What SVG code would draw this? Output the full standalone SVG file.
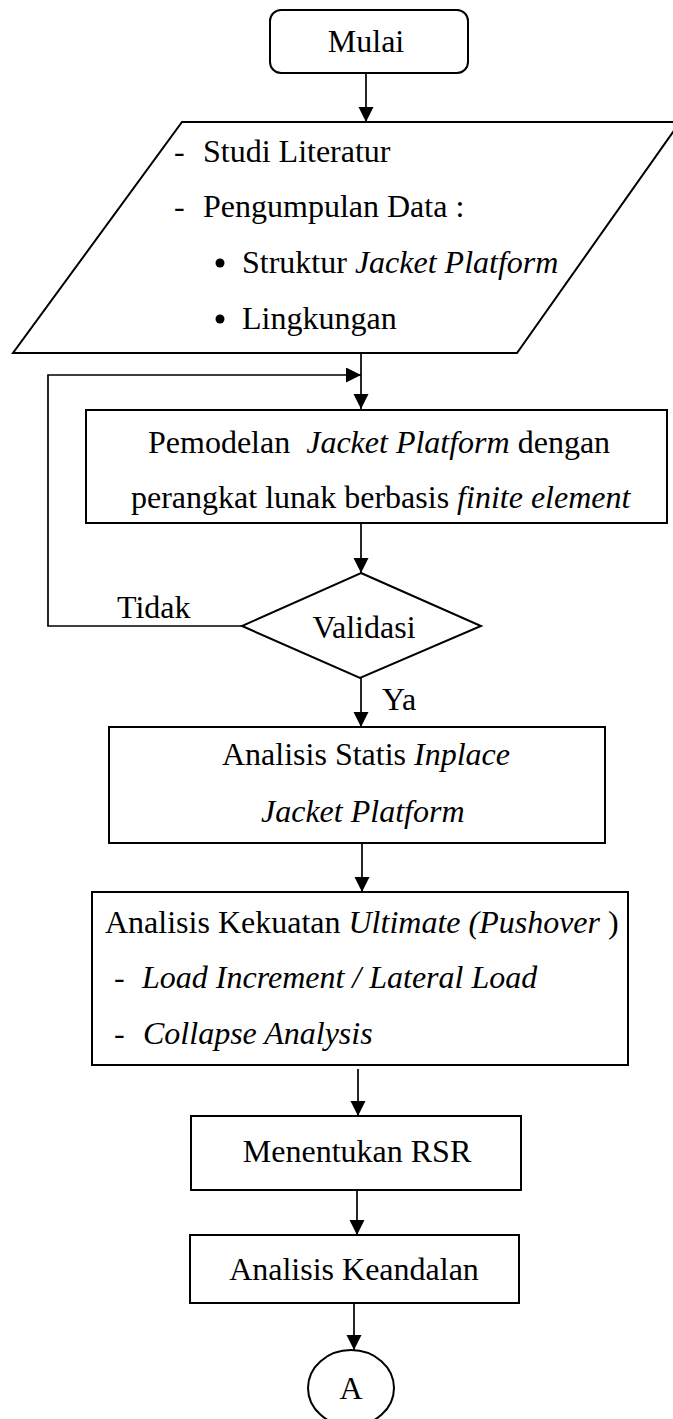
<svg xmlns="http://www.w3.org/2000/svg" width="673" height="1419" viewBox="0 0 673 1419">
  <style>
    .shape { fill: #ffffff; stroke: #000000; stroke-width: 2; }
    .wire { fill: none; stroke: #000000; stroke-width: 1.7; }
    text { font-family: "Liberation Serif", "Times New Roman", serif; font-size: 32px; fill: #000000; }
    .mid { text-anchor: middle; }
    .it { font-style: italic; }
    .pre { white-space: pre; }
  </style>
  <defs>
    <marker id="arrow" markerUnits="userSpaceOnUse" markerWidth="16" markerHeight="16" refX="15" refY="7.5" orient="auto">
      <path d="M0,0 L15,7.5 L0,15 Z" fill="#000000"/>
    </marker>
  </defs>
  <rect width="673" height="1419" fill="#ffffff"/>

  <!-- connectors -->
  <g id="connectors">
    <line class="wire" x1="366" y1="73" x2="366" y2="122" marker-end="url(#arrow)"/>
    <line class="wire" x1="361" y1="353" x2="361" y2="409" marker-end="url(#arrow)"/>
    <path class="wire" d="M242,626 H48 V375 H361" marker-end="url(#arrow)"/>
    <line class="wire" x1="361" y1="523" x2="361" y2="573" marker-end="url(#arrow)"/>
    <line class="wire" x1="361" y1="678" x2="361" y2="727" marker-end="url(#arrow)"/>
    <line class="wire" x1="362" y1="843" x2="362" y2="892" marker-end="url(#arrow)"/>
    <line class="wire" x1="358" y1="1069" x2="358" y2="1116" marker-end="url(#arrow)"/>
    <line class="wire" x1="357" y1="1190" x2="357" y2="1235" marker-end="url(#arrow)"/>
    <line class="wire" x1="354" y1="1303" x2="354" y2="1350" marker-end="url(#arrow)"/>
    <text x="117" y="618">Tidak</text>
    <text x="382" y="710">Ya</text>
  </g>

  <!-- start terminal -->
  <g id="mulai">
    <rect class="shape" x="270" y="10" width="198" height="63" rx="11" ry="11"/>
    <text class="mid" x="366" y="52">Mulai</text>
  </g>

  <!-- input data -->
  <g id="input-data">
    <polygon class="shape" points="182,122 680,122 517,353 13,353"/>
    <text x="174" y="162">-</text>
    <text x="203" y="162">Studi Literatur</text>
    <text x="174" y="217">-</text>
    <text x="203" y="217">Pengumpulan Data :</text>
    <circle cx="220" cy="263" r="4.5" fill="#000000"/>
    <text x="242" y="273">Struktur <tspan class="it">Jacket Platform</tspan></text>
    <circle cx="220" cy="319" r="4.5" fill="#000000"/>
    <text x="242" y="329">Lingkungan</text>
  </g>

  <!-- modelling -->
  <g id="pemodelan">
    <rect class="shape" x="86" y="410" width="581" height="113"/>
    <text class="pre" x="148" y="453">Pemodelan  <tspan class="it">Jacket Platform</tspan> dengan</text>
    <text x="131" y="508">perangkat lunak berbasis <tspan class="it">finite element</tspan></text>
  </g>

  <!-- validation decision -->
  <g id="validasi">
    <polygon class="shape" points="361,573 481,626 360,678 242,626"/>
    <text class="mid" x="364" y="638">Validasi</text>
  </g>

  <!-- static inplace analysis -->
  <g id="analisis-statis">
    <rect class="shape" x="109" y="727" width="496" height="116"/>
    <text x="222" y="765">Analisis Statis <tspan class="it">Inplace</tspan></text>
    <text class="it" x="261" y="822">Jacket Platform</text>
  </g>

  <!-- ultimate strength analysis -->
  <g id="analisis-kekuatan">
    <rect class="shape" x="92" y="892" width="536" height="173"/>
    <text x="105" y="933">Analisis Kekuatan <tspan class="it">Ultimate (Pushover</tspan> )</text>
    <text x="114" y="988">-</text>
    <text class="it" x="142" y="988">Load Increment / Lateral Load</text>
    <text x="114" y="1044">-</text>
    <text class="it" x="143" y="1044">Collapse Analysis</text>
  </g>

  <!-- RSR -->
  <g id="menentukan-rsr">
    <rect class="shape" x="191" y="1116" width="330" height="74"/>
    <text class="mid" x="357" y="1162">Menentukan RSR</text>
  </g>

  <!-- reliability analysis -->
  <g id="analisis-keandalan">
    <rect class="shape" x="190" y="1235" width="329" height="68"/>
    <text class="mid" x="354" y="1280">Analisis Keandalan</text>
  </g>

  <!-- off-page connector -->
  <g id="konektor-a">
    <ellipse class="shape" cx="351" cy="1388" rx="43" ry="38"/>
    <text class="mid" x="351" y="1399">A</text>
  </g>
</svg>
